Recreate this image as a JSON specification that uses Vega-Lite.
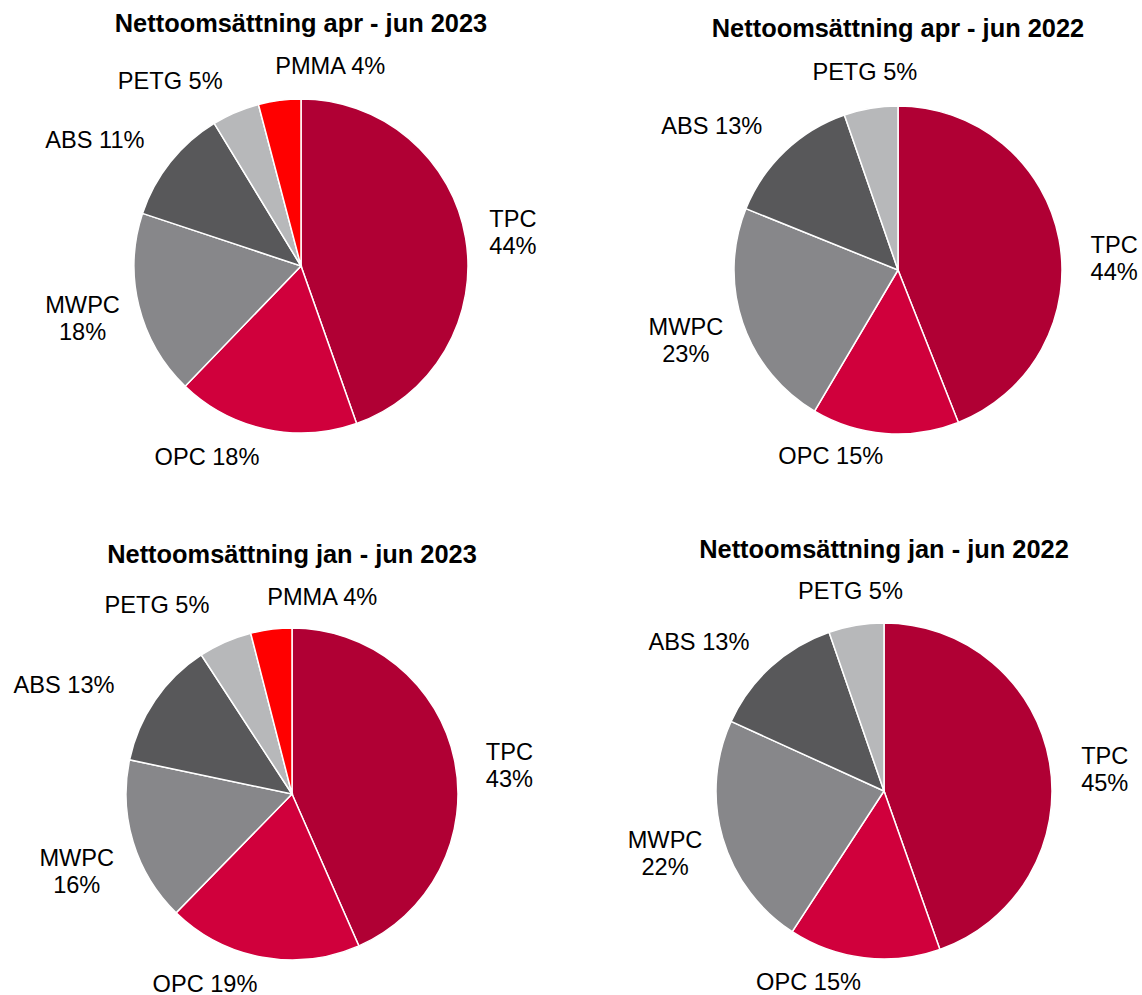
{
  "$schema": "https://vega.github.io/schema/vega-lite/v6.json",
  "padding": {"left": 0, "top": 11, "right": 0, "bottom": 0},
  "background": "white",
  "config": {
    "view": {"stroke": null},
    "font": "Liberation Sans",
    "title": {"font": "Liberation Sans", "fontSize": 25.4, "fontWeight": "bold", "color": "#000000", "anchor": "middle"},
    "text": {"font": "Liberation Sans", "fontSize": 23.6, "color": "#000000", "baseline": "middle", "lineBreak": "\n", "lineHeight": 27}
  },
  "datasets": {
    "p1": [
      {"cat": "TPC", "share": 44.6, "label": "TPC\n44%", "idx": 1},
      {"cat": "OPC", "share": 17.6, "label": "OPC 18%", "idx": 2},
      {"cat": "MWPC", "share": 17.9, "label": "MWPC\n18%", "idx": 3},
      {"cat": "ABS", "share": 11.2, "label": "ABS 11%", "idx": 4},
      {"cat": "PETG", "share": 4.6, "label": "PETG 5%", "idx": 5},
      {"cat": "PMMA", "share": 4.1, "label": "PMMA 4%", "idx": 6}
    ],
    "p2": [
      {"cat": "TPC", "share": 44.0, "label": "TPC\n44%", "idx": 1},
      {"cat": "OPC", "share": 14.5, "label": "OPC 15%", "idx": 2},
      {"cat": "MWPC", "share": 22.6, "label": "MWPC\n23%", "idx": 3},
      {"cat": "ABS", "share": 13.6, "label": "ABS 13%", "idx": 4},
      {"cat": "PETG", "share": 5.3, "label": "PETG 5%", "idx": 5}
    ],
    "p3": [
      {"cat": "TPC", "share": 43.4, "label": "TPC\n43%", "idx": 1},
      {"cat": "OPC", "share": 18.9, "label": "OPC 19%", "idx": 2},
      {"cat": "MWPC", "share": 16.0, "label": "MWPC\n16%", "idx": 3},
      {"cat": "ABS", "share": 12.5, "label": "ABS 13%", "idx": 4},
      {"cat": "PETG", "share": 5.2, "label": "PETG 5%", "idx": 5},
      {"cat": "PMMA", "share": 4.0, "label": "PMMA 4%", "idx": 6}
    ],
    "p4": [
      {"cat": "TPC", "share": 44.6, "label": "TPC\n45%", "idx": 1},
      {"cat": "OPC", "share": 14.6, "label": "OPC 15%", "idx": 2},
      {"cat": "MWPC", "share": 22.6, "label": "MWPC\n22%", "idx": 3},
      {"cat": "ABS", "share": 12.9, "label": "ABS 13%", "idx": 4},
      {"cat": "PETG", "share": 5.3, "label": "PETG 5%", "idx": 5}
    ]
  },
  "bounds": "flush",
  "spacing": 532,
  "vconcat": [
    {
      "bounds": "flush",
      "spacing": 56,
      "hconcat": [
        {
          "title": {"text": "Nettoomsättning apr - jun 2023", "offset": -20.5},
          "width": 602, "height": 412,
          "data": {"name": "p1"},
          "encoding": {
            "theta": {"field": "share", "type": "quantitative", "stack": true},
            "order": {"field": "idx", "type": "quantitative"}
          },
          "layer": [
            {"mark": {"type": "arc", "outerRadius": 167, "stroke": "#ffffff", "strokeWidth": 1.5},
             "encoding": {"color": {"field": "cat", "type": "nominal", "legend": null,
               "scale": {"domain": ["TPC", "OPC", "MWPC", "ABS", "PETG", "PMMA"], "range": ["#B00034", "#D0003C", "#87878A", "#58585A", "#B7B8BA", "#FF0000"]}}}},
            {"mark": {"type": "text", "radius": 191, "align": "left", "baseline": "line-bottom"},
             "encoding": {"text": {"condition": {"test": "datum.cat === 'TPC'", "field": "label"}, "value": ""}}},
            {"mark": {"type": "text", "radius": 196, "align": "right"},
             "encoding": {"text": {"condition": {"test": "datum.cat === 'OPC'", "field": "label"}, "value": ""}}},
            {"mark": {"type": "text", "radius": 225, "align": "center", "baseline": "line-bottom"},
             "encoding": {"text": {"condition": {"test": "datum.cat === 'MWPC'", "field": "label"}, "value": ""}}},
            {"mark": {"type": "text", "radius": 200, "align": "right"},
             "encoding": {"text": {"condition": {"test": "indexof(['ABS','PETG'], datum.cat) >= 0", "field": "label"}, "value": ""}}},
            {"mark": {"type": "text", "radius": 201, "align": "left"},
             "encoding": {"text": {"condition": {"test": "datum.cat === 'PMMA'", "field": "label"}, "value": ""}}}
          ]
        },
        {
          "title": {"text": "Nettoomsättning apr - jun 2022", "offset": -19.5},
          "width": 480, "height": 420,
          "data": {"name": "p2"},
          "encoding": {
            "theta": {"field": "share", "type": "quantitative", "stack": true},
            "order": {"field": "idx", "type": "quantitative"}
          },
          "layer": [
            {"mark": {"type": "arc", "outerRadius": 164, "stroke": "#ffffff", "strokeWidth": 1.5},
             "encoding": {"color": {"field": "cat", "type": "nominal", "legend": null,
               "scale": {"domain": ["TPC", "OPC", "MWPC", "ABS", "PETG", "PMMA"], "range": ["#B00034", "#D0003C", "#87878A", "#58585A", "#B7B8BA", "#FF0000"]}}}},
            {"mark": {"type": "text", "radius": 196, "align": "left", "baseline": "line-top"},
             "encoding": {"text": {"condition": {"test": "datum.cat === 'TPC'", "field": "label"}, "value": ""}}},
            {"mark": {"type": "text", "radius": 188, "align": "right"},
             "encoding": {"text": {"condition": {"test": "datum.cat === 'OPC'", "field": "label"}, "value": ""}}},
            {"mark": {"type": "text", "radius": 224, "align": "center", "baseline": "line-bottom"},
             "encoding": {"text": {"condition": {"test": "datum.cat === 'MWPC'", "field": "label"}, "value": ""}}},
            {"mark": {"type": "text", "radius": 197, "align": "right"},
             "encoding": {"text": {"condition": {"test": "datum.cat === 'ABS'", "field": "label"}, "value": ""}}},
            {"mark": {"type": "text", "radius": 200, "align": "center"},
             "encoding": {"text": {"condition": {"test": "datum.cat === 'PETG'", "field": "label"}, "value": ""}}}
          ]
        }
      ]
    },
    {
      "bounds": "flush",
      "spacing": 60,
      "hconcat": [
        {
          "title": {"text": "Nettoomsättning jan - jun 2023", "offset": -10},
          "width": 584, "height": 404,
          "data": {"name": "p3"},
          "encoding": {
            "theta": {"field": "share", "type": "quantitative", "stack": true},
            "order": {"field": "idx", "type": "quantitative"}
          },
          "layer": [
            {"mark": {"type": "arc", "outerRadius": 166, "stroke": "#ffffff", "strokeWidth": 1.5},
             "encoding": {"color": {"field": "cat", "type": "nominal", "legend": null,
               "scale": {"domain": ["TPC", "OPC", "MWPC", "ABS", "PETG", "PMMA"], "range": ["#B00034", "#D0003C", "#87878A", "#58585A", "#B7B8BA", "#FF0000"]}}}},
            {"mark": {"type": "text", "radius": 198, "align": "left"},
             "encoding": {"text": {"condition": {"test": "datum.cat === 'TPC'", "field": "label"}, "value": ""}}},
            {"mark": {"type": "text", "radius": 194, "align": "right"},
             "encoding": {"text": {"condition": {"test": "datum.cat === 'OPC'", "field": "label"}, "value": ""}}},
            {"mark": {"type": "text", "radius": 225, "align": "center"},
             "encoding": {"text": {"condition": {"test": "datum.cat === 'MWPC'", "field": "label"}, "value": ""}}},
            {"mark": {"type": "text", "radius": 215, "align": "right", "baseline": "line-top"},
             "encoding": {"text": {"condition": {"test": "datum.cat === 'ABS'", "field": "label"}, "value": ""}}},
            {"mark": {"type": "text", "radius": 205, "align": "right"},
             "encoding": {"text": {"condition": {"test": "datum.cat === 'PETG'", "field": "label"}, "value": ""}}},
            {"mark": {"type": "text", "radius": 198, "align": "left"},
             "encoding": {"text": {"condition": {"test": "datum.cat === 'PMMA'", "field": "label"}, "value": ""}}}
          ]
        },
        {
          "title": {"text": "Nettoomsättning jan - jun 2022", "offset": -23},
          "width": 480, "height": 398,
          "data": {"name": "p4"},
          "encoding": {
            "theta": {"field": "share", "type": "quantitative", "stack": true},
            "order": {"field": "idx", "type": "quantitative"}
          },
          "layer": [
            {"mark": {"type": "arc", "outerRadius": 168, "stroke": "#ffffff", "strokeWidth": 1.5},
             "encoding": {"color": {"field": "cat", "type": "nominal", "legend": null,
               "scale": {"domain": ["TPC", "OPC", "MWPC", "ABS", "PETG", "PMMA"], "range": ["#B00034", "#D0003C", "#87878A", "#58585A", "#B7B8BA", "#FF0000"]}}}},
            {"mark": {"type": "text", "radius": 200, "align": "left"},
             "encoding": {"text": {"condition": {"test": "datum.cat === 'TPC'", "field": "label"}, "value": ""}}},
            {"mark": {"type": "text", "radius": 193, "align": "right"},
             "encoding": {"text": {"condition": {"test": "datum.cat === 'OPC'", "field": "label"}, "value": ""}}},
            {"mark": {"type": "text", "radius": 228, "align": "center", "baseline": "line-bottom"},
             "encoding": {"text": {"condition": {"test": "datum.cat === 'MWPC'", "field": "label"}, "value": ""}}},
            {"mark": {"type": "text", "radius": 200, "align": "right"},
             "encoding": {"text": {"condition": {"test": "datum.cat === 'ABS'", "field": "label"}, "value": ""}}},
            {"mark": {"type": "text", "radius": 202, "align": "center"},
             "encoding": {"text": {"condition": {"test": "datum.cat === 'PETG'", "field": "label"}, "value": ""}}}
          ]
        }
      ]
    }
  ]
}
